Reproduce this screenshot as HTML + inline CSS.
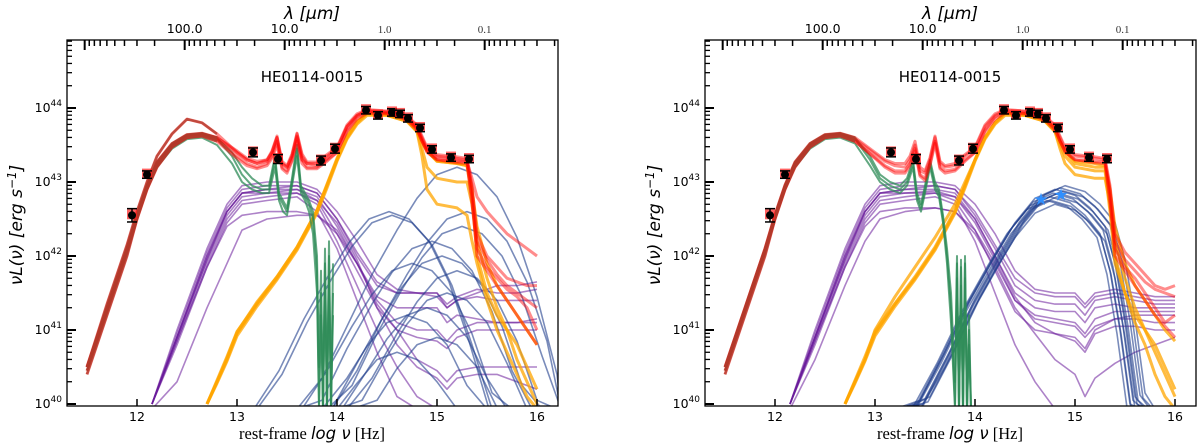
<!DOCTYPE html>
<html><head><meta charset="utf-8">
<style>
html,body{margin:0;padding:0;background:#fff;overflow:hidden;}
svg{display:block;}
text{font-family:"DejaVu Sans","Liberation Sans",sans-serif;}
</style></head>
<body>
<svg id="fig" width="1200" height="448" viewBox="0 0 1200 448" xmlns="http://www.w3.org/2000/svg"></svg>
<script>
// ---------- DATA ----------
const obsLogNu = [11.95,12.10,13.16,13.41,13.84,13.98,14.29,14.41,14.55,14.63,14.71,14.83,14.95,15.14,15.32];
const obsLogL  = [42.55,43.10,43.40,43.31,43.29,43.45,43.97,43.90,43.94,43.92,43.86,43.73,43.44,43.33,43.31];
const obsErr   = [0.09,0.05,0.06,0.06,0.06,0.06,0.05,0.05,0.05,0.05,0.05,0.05,0.05,0.05,0.05];

const xTicks = [12,13,14,15,16];
const yTicks = [40,41,42,43,44];
const lamMajor = [100,10,1,0.1];
const lamLabels = ["100.0","10.0","1.0","0.1"];

const redX = [11.5,11.7,11.9,12.0,12.1,12.2,12.35,12.5,12.65,12.8,13.0,13.1,13.2,13.3,13.35,13.4,13.45,13.5,13.55,13.6,13.65,13.7,13.8,13.9,14.0,14.1,14.2,14.3,14.5,14.7,14.8,14.85,14.9,15.0,15.2,15.3,15.35,15.4,15.5,15.6,15.7,15.8,15.9,16.0];
const leftRed = [
 [40.5,41.3,42.1,42.55,42.95,43.25,43.5,43.63,43.65,43.6,43.4,43.3,43.25,43.28,43.4,43.6,43.25,43.2,43.35,43.65,43.35,43.25,43.25,43.35,43.45,43.75,43.9,43.97,43.95,43.88,43.75,43.6,43.45,43.35,43.32,43.3,42.9,42.2,41.95,41.75,41.6,41.5,41.4,41.3],
 [40.45,41.25,42.05,42.5,42.9,43.2,43.47,43.6,43.63,43.57,43.35,43.25,43.2,43.25,43.35,43.55,43.2,43.15,43.3,43.6,43.3,43.2,43.2,43.3,43.4,43.7,43.88,43.95,43.93,43.85,43.72,43.55,43.42,43.3,43.28,43.27,42.8,42.0,41.8,41.6,41.4,41.2,41.0,40.8],
 [40.5,41.35,42.15,42.6,43.0,43.35,43.65,43.85,43.8,43.65,43.4,43.3,43.25,43.3,43.4,43.6,43.25,43.2,43.35,43.62,43.3,43.25,43.22,43.32,43.45,43.75,43.9,43.96,43.94,43.87,43.74,43.58,43.44,43.33,43.3,43.28,43.05,42.8,42.6,42.45,42.3,42.2,42.1,42.0],
 [40.4,41.2,42.0,42.5,42.9,43.22,43.48,43.6,43.62,43.55,43.32,43.22,43.18,43.22,43.32,43.5,43.18,43.12,43.28,43.55,43.25,43.18,43.18,43.28,43.4,43.68,43.85,43.93,43.92,43.84,43.7,43.55,43.4,43.3,43.26,43.25,42.7,42.1,41.85,41.7,41.55,41.45,41.3,41.0],
 [40.5,41.3,42.1,42.55,42.95,43.27,43.52,43.64,43.66,43.6,43.42,43.32,43.28,43.3,43.42,43.62,43.28,43.22,43.38,43.66,43.38,43.27,43.27,43.37,43.47,43.77,43.92,43.98,43.96,43.89,43.77,43.62,43.47,43.37,43.34,43.32,42.95,42.3,42.0,41.85,41.7,41.65,41.6,41.6]
];
const rightRed = [
 [40.5,41.3,42.1,42.55,42.95,43.25,43.5,43.63,43.65,43.58,43.38,43.28,43.22,43.2,43.3,43.5,43.15,43.12,43.3,43.6,43.25,43.2,43.22,43.35,43.45,43.75,43.9,43.97,43.95,43.88,43.75,43.6,43.45,43.35,43.32,43.3,42.9,42.2,41.95,41.8,41.65,41.55,41.5,41.45],
 [40.45,41.25,42.05,42.5,42.9,43.2,43.47,43.6,43.63,43.55,43.33,43.22,43.15,43.15,43.25,43.45,43.1,43.05,43.25,43.55,43.2,43.15,43.17,43.3,43.4,43.7,43.88,43.95,43.93,43.85,43.72,43.55,43.42,43.3,43.28,43.27,42.8,42.0,41.8,41.6,41.4,41.2,41.05,40.9],
 [40.5,41.3,42.1,42.56,42.96,43.27,43.52,43.64,43.66,43.6,43.4,43.3,43.25,43.25,43.35,43.55,43.2,43.15,43.33,43.62,43.28,43.22,43.25,43.37,43.47,43.77,43.92,43.98,43.96,43.89,43.77,43.62,43.47,43.37,43.34,43.32,42.95,42.3,42.05,41.9,41.75,41.6,41.55,41.6],
 [40.4,41.2,42.0,42.5,42.9,43.22,43.48,43.6,43.62,43.55,43.32,43.2,43.12,43.12,43.22,43.42,43.08,43.02,43.22,43.52,43.18,43.12,43.15,43.28,43.4,43.68,43.85,43.93,43.92,43.84,43.7,43.55,43.4,43.3,43.26,43.25,42.7,42.1,41.85,41.7,41.5,41.3,41.1,41.2]
];

const greenX = [11.5,11.7,11.9,12.0,12.1,12.2,12.35,12.5,12.65,12.8,12.95,13.05,13.15,13.25,13.32,13.38,13.42,13.46,13.5,13.55,13.6,13.64,13.68,13.72,13.76,13.8,13.82,13.84,13.86,13.88,13.9,13.92,13.94,13.96];
const leftGreen = [
 [40.5,41.3,42.1,42.55,42.95,43.25,43.5,43.63,43.65,43.58,43.35,43.1,42.95,42.9,42.9,43.3,42.8,42.7,42.6,43.0,43.45,42.9,42.8,42.7,42.5,41.8,40.0,41.5,39.5,41.9,39.5,42.0,39.5,41.5],
 [40.45,41.25,42.05,42.5,42.9,43.2,43.45,43.58,43.6,43.5,43.25,43.0,42.9,42.85,42.85,43.2,42.75,42.6,42.55,42.95,43.35,42.85,42.75,42.6,42.3,41.5,39.5,41.2,39.5,41.6,39.5,41.7,39.5,41.2],
 [40.5,41.3,42.1,42.56,42.96,43.27,43.52,43.64,43.66,43.6,43.4,43.2,43.05,42.95,42.95,43.35,42.85,42.75,42.65,43.05,43.5,42.95,42.85,42.75,42.6,42.0,40.5,41.8,39.5,42.1,39.5,42.2,39.5,41.9]
];
const rightGreen = [
 [40.5,41.3,42.1,42.55,42.95,43.25,43.5,43.63,43.65,43.58,43.3,43.05,42.95,42.9,43.0,43.25,42.8,42.65,42.9,43.25,42.95,42.85,42.5,42.0,41.3,40.0,41.9,39.5,41.85,39.5,41.9,39.5,41.0,39.5],
 [40.45,41.25,42.05,42.5,42.9,43.2,43.45,43.58,43.6,43.52,43.22,43.0,42.9,42.85,42.95,43.2,42.75,42.6,42.85,43.2,42.9,42.8,42.45,41.9,41.1,39.5,41.7,39.5,41.6,39.5,41.7,39.5,40.8,39.5],
 [40.5,41.3,42.1,42.56,42.96,43.27,43.52,43.64,43.66,43.6,43.35,43.1,43.0,42.95,43.05,43.3,42.85,42.7,42.95,43.3,43.0,42.9,42.55,42.1,41.5,40.3,42.0,39.5,41.95,39.5,42.0,39.5,41.2,39.5]
];

const purpleX = [12.15,12.4,12.7,12.9,13.05,13.3,13.6,13.8,14.0,14.2,14.4,14.6,14.8,15.0,15.1,15.2,15.4,15.6,15.8,16.0];
const leftPurple = [
 [40,41.0,42.1,42.7,42.95,43.0,43.0,42.9,42.6,42.2,41.75,41.55,41.5,41.5,41.35,41.45,41.55,41.5,41.5,41.55],
 [40,40.95,42.05,42.65,42.9,42.95,42.95,42.85,42.5,42.0,41.6,41.5,41.5,41.45,41.3,41.4,41.45,41.4,41.4,41.4],
 [40,40.9,42.0,42.6,42.85,42.9,42.9,42.8,42.4,41.9,41.4,41.1,41.0,41.0,40.85,41.0,41.1,41.1,41.1,41.15],
 [40,40.9,41.95,42.55,42.8,42.85,42.9,42.75,42.3,41.8,41.3,41.0,40.9,40.85,40.75,40.9,41.0,41.0,41.0,41.0],
 [40,40.85,41.9,42.5,42.75,42.8,42.85,42.7,42.2,41.6,41.0,40.5,40.1,39.8,39.7,39.6,39.6,39.6,39.6,39.6],
 [40,40.8,41.85,42.45,42.7,42.75,42.8,42.6,42.1,41.4,40.7,40.1,39.6,39.4,39.3,39.3,39.3,39.3,39.3,39.3],
 [40,40.85,41.85,42.4,42.55,42.6,42.6,42.55,42.3,41.9,41.45,41.3,41.3,41.3,41.1,41.2,41.15,41.1,41.1,41.1],
 [39.5,40.3,41.3,41.9,42.35,42.5,42.55,42.55,42.35,41.9,41.35,41.0,40.6,40.45,40.3,40.45,40.5,40.5,40.5,40.5],
 [40,40.9,41.95,42.6,42.85,42.9,42.95,42.85,42.5,42.05,41.65,41.5,41.5,41.5,41.3,41.4,41.5,41.6,41.6,41.65],
 [40,40.9,42.0,42.6,42.85,42.85,42.85,42.75,42.45,41.95,41.3,40.8,40.5,40.35,40.2,40.35,40.4,40.4,40.3,40.2]
];
const rightPurple = [
 [40,41.0,42.1,42.7,42.95,43.0,43.0,42.95,42.7,42.3,41.8,41.55,41.5,41.5,41.35,41.5,41.55,41.5,41.45,41.45],
 [40,40.95,42.05,42.65,42.9,42.95,42.95,42.9,42.6,42.15,41.7,41.5,41.45,41.45,41.3,41.45,41.5,41.45,41.4,41.4],
 [40,40.9,42.0,42.6,42.85,42.9,42.9,42.85,42.5,42.0,41.5,41.3,41.25,41.25,41.1,41.3,41.35,41.3,41.3,41.3],
 [40,40.9,41.95,42.55,42.8,42.85,42.88,42.8,42.45,41.95,41.4,41.2,41.15,41.1,40.95,41.15,41.25,41.25,41.25,41.25],
 [40,40.85,41.9,42.5,42.75,42.8,42.85,42.75,42.35,41.8,41.25,41.0,40.95,40.9,40.75,41.0,41.15,41.2,41.2,41.2],
 [40,40.8,41.85,42.45,42.7,42.75,42.8,42.7,42.2,41.5,40.8,40.3,39.8,39.5,39.4,39.4,39.4,39.4,39.4,39.4],
 [40,40.85,41.85,42.4,42.6,42.65,42.65,42.6,42.3,41.85,41.3,40.95,40.6,40.4,40.1,40.35,40.55,40.7,40.8,40.9],
 [39.8,40.6,41.6,42.2,42.5,42.6,42.65,42.6,42.35,41.9,41.4,41.15,41.1,41.05,40.9,41.05,41.15,41.15,41.1,41.1],
 [40,40.9,41.95,42.6,42.85,42.9,42.95,42.9,42.55,42.1,41.6,41.4,41.35,41.35,41.2,41.4,41.45,41.4,41.35,41.35],
 [40,40.9,42.0,42.6,42.85,42.85,42.85,42.8,42.5,42.0,41.45,41.1,40.95,40.85,40.7,40.95,41.05,41.05,41.0,41.0]
];

const orangeX = [12.7,12.8,12.9,13.0,13.2,13.4,13.6,13.8,13.9,14.0,14.1,14.2,14.3,14.5,14.7,14.8,14.85,14.9,15.0,15.2,15.3,15.35,15.4,15.5,15.6,15.7,15.8,15.9,16.0];
const leftOrange = [
 [40,40.3,40.6,40.95,41.35,41.7,42.1,42.6,42.95,43.3,43.6,43.8,43.93,43.92,43.85,43.72,43.55,43.42,43.28,43.25,43.22,42.8,42.0,41.5,41.2,41.0,40.8,40.5,40.2],
 [40,40.3,40.62,40.97,41.38,41.72,42.12,42.62,42.97,43.32,43.62,43.82,43.92,43.9,43.82,43.68,43.45,43.2,43.05,43.0,43.0,42.7,42.2,41.7,41.3,41.0,40.6,40.3,40.0],
 [40,40.28,40.58,40.92,41.32,41.68,42.08,42.58,42.92,43.28,43.58,43.78,43.9,43.9,43.82,43.68,43.35,42.9,42.7,42.65,42.55,42.2,41.9,41.4,41.0,40.7,40.4,40.1,39.8],
 [40,40.32,40.64,40.98,41.36,41.72,42.12,42.62,42.96,43.3,43.6,43.8,43.93,43.92,43.85,43.72,43.55,43.42,43.28,43.25,43.22,42.9,42.4,41.9,41.6,41.4,41.2,41.0,40.8]
];
const rightOrange = [
 [40,40.3,40.6,40.95,41.35,41.7,42.1,42.6,42.95,43.3,43.6,43.8,43.93,43.92,43.85,43.72,43.55,43.42,43.25,43.2,43.2,42.8,42.0,41.5,41.2,41.0,40.8,40.5,40.2],
 [40,40.3,40.6,41.0,41.45,41.85,42.25,42.7,43.0,43.3,43.6,43.8,43.92,43.9,43.82,43.68,43.45,43.25,43.1,43.05,43.05,42.7,42.2,41.7,41.3,41.0,40.7,40.4,40.1],
 [40,40.28,40.58,40.92,41.32,41.68,42.08,42.58,42.92,43.28,43.58,43.78,43.9,43.9,43.82,43.68,43.5,43.35,43.2,43.15,43.15,42.6,41.9,41.5,41.1,40.8,40.4,40.1,39.8],
 [40,40.32,40.64,40.98,41.36,41.72,42.12,42.62,42.96,43.3,43.6,43.8,43.93,43.92,43.85,43.72,43.55,43.42,43.28,43.25,43.22,42.9,42.4,41.9,41.6,41.4,41.2,41.0,40.85]
];

const bbbLeftDx = [-1.6,-1.35,-1.1,-0.85,-0.6,-0.4,-0.2,0,0.2,0.4,0.6,0.8,1.0,1.2];
const bbbLeftDy = [-3.6,-2.85,-2.15,-1.45,-0.85,-0.42,-0.1,0,-0.1,-0.4,-0.95,-1.75,-2.8,-4.0];
const leftBbbPeakX = [14.52,14.55,14.75,14.95,15.05,15.2,15.25,15.1,14.7,14.9,15.0,14.6,15.3,15.2];
const leftBbbPeakY = [42.6,42.55,41.9,42.2,42.0,43.2,42.4,41.5,41.2,41.3,40.9,40.7,42.6,41.8];
const bbbRightDx = [-1.6,-1.35,-1.1,-0.85,-0.6,-0.4,-0.2,0,0.2,0.35,0.5,0.6,0.7,0.8,0.9];
const bbbRightDy = [-3.4,-2.85,-2.2,-1.5,-0.9,-0.45,-0.12,0,-0.08,-0.25,-0.5,-1.0,-1.8,-2.8,-3.9];
const rightBbbPeakX = [14.78,14.80,14.82,14.76,14.85,14.80,14.90,14.75,14.83,14.72,14.88];
const rightBbbPeakY = [42.85,42.90,42.80,42.75,42.92,42.70,42.95,42.80,42.85,42.75,42.88];
const starLogNu = [14.66,14.86];
const starLogL = [42.77,42.83];

// ---------- DRAW ----------
const NS = "http://www.w3.org/2000/svg";
const svg = document.getElementById("fig");
function el(tag, attrs, parent) {
  const e = document.createElementNS(NS, tag);
  for (const k in attrs) e.setAttribute(k, attrs[k]);
  (parent || svg).appendChild(e);
  return e;
}
const FT = 40, FB = 406;
function makePanel(off, idx) {
  const g = el("g", {});
  
  
  const FL = 67 + off, FR = 558 + off;
  const X = v => 137 + off + (v - 12) * 100;
  const Y = l => 108 + (44 - l) * 74;
  const cid = "clip" + idx;
  const cp = el("clipPath", { id: cid }, g);
  el("rect", { x: FL, y: FT, width: FR - FL, height: FB - FT }, cp);
  const plot = el("g", { "clip-path": "url(#" + cid + ")" }, g);
  return { g, plot, X, Y, FL, FR, off };
}
function clampY(y) { return Math.max(FT - 3, Math.min(FB + 3, y)); }
function clampX(P, x) { return Math.max(P.FL - 3, Math.min(P.FR + 3, x)); }
function line(P, xs, ys, color, w, op, name) {
  const pts = xs.map((x, i) => clampX(P, P.X(x)).toFixed(1) + "," + clampY(P.Y(ys[i])).toFixed(1)).join(" ");
  const p = el("polyline", { points: pts, fill: "none", stroke: color, "stroke-width": w, "stroke-opacity": op, "stroke-linejoin": "round" }, P.plot);
  
  
}
function drawPanel(P, red, green, purple, orange, bX, bY, bDx, bDy, stars) {
  purple.forEach(r => line(P, purpleX, r, "#6a1b9a", 1.6, 0.55, "torus-model-line"));
  bX.forEach((px, i) => {
    line(P, bDx.map(d => px + d), bDy.map(d => bY[i] + d), "#1f3d8c", 1.6, 0.6, "bbb-model-line");
  });
  orange.forEach(r => line(P, orangeX, r, "#ffa500", 3, 0.75, "stellar-model-line"));
  green.forEach(r => line(P, greenX, r, "#2e8b57", 2, 0.75, "starburst-model-line"));
  red.forEach(r => line(P, redX, r, "#ff0000", 3, 0.45, "total-model-line"));
  red.forEach(r => {
    const n = redX.findIndex(v => v > 12.85);
    line(P, redX.slice(0, n), r.slice(0, n), "#b23a2a", 2.5, 0.8, "fir-total-line");
  });
  obsLogNu.forEach((v, i) => {
    const x = P.X(v), y = P.Y(obsLogL[i]);
    const s = el("rect", { x: x - 5, y: y - 6, width: 10, height: 10, fill: "#ff2020", opacity: 0.7 }, P.plot);
    
    
    const y1 = P.Y(obsLogL[i] + obsErr[i]), y2 = P.Y(obsLogL[i] - obsErr[i]);
    el("line", { x1: x, x2: x, y1: y1, y2: y2, stroke: "#000", "stroke-width": 1.5 }, P.plot);
    el("line", { x1: x - 5, x2: x + 5, y1: y1, y2: y1, stroke: "#000", "stroke-width": 1.5 }, P.plot);
    el("line", { x1: x - 5, x2: x + 5, y1: y2, y2: y2, stroke: "#000", "stroke-width": 1.5 }, P.plot);
    const c = el("circle", { cx: x, cy: y, r: 4, fill: "#000" }, P.plot);
    
    
  });
  if (stars) {
    starLogNu.forEach((v, i) => {
      const t = el("text", { x: P.X(v), y: P.Y(starLogL[i]) + 6, "text-anchor": "middle", "font-size": 17, fill: "#2f8fff" }, P.plot);
      t.textContent = "★";
      
      
    });
  }
  const fr = el("rect", { x: P.FL, y: FT, width: P.FR - P.FL, height: FB - FT, fill: "none", stroke: "#000", "stroke-width": 1.3 }, P.g);
  
  
  xTicks.forEach(t => {
    const x = P.X(t);
    el("line", { x1: x, x2: x, y1: FB, y2: FB - 7, stroke: "#000", "stroke-width": 1.5 }, P.g);
    const tx = el("text", { x: x, y: 421, "text-anchor": "middle", "font-size": 12.5 }, P.g);
    tx.textContent = t;
    
    
  });
  for (let d = 39; d <= 44; d++) {
    for (let m = 1; m <= 9; m++) {
      const l = d + Math.log10(m);
      const y = P.Y(l);
      if (y < FT || y > FB + 0.5) continue;
      el("line", { x1: P.FL, x2: P.FL + (m === 1 ? 9 : 5), y1: y, y2: y, stroke: "#000", "stroke-width": m === 1 ? 2 : 1.3 }, P.g);
    }
  }
  yTicks.forEach(t => {
    const y = P.Y(t);
    const tx = el("text", { x: P.FL - 5, y: y + 4, "text-anchor": "end", "font-size": 12.5 }, P.g);
    
    
    const a = el("tspan", {}, tx); a.textContent = "10";
    const b = el("tspan", { dy: -6, "font-size": 9 }, tx); b.textContent = t;
  });
  for (let e = -2; e <= 3; e++) {
    for (let m = 1; m <= 9; m++) {
      const lam = m * Math.pow(10, e);
      const x = P.X(14.4768 - Math.log10(lam));
      if (x < P.FL + 2 || x > P.FR - 1) continue;
      el("line", { x1: x, x2: x, y1: FT, y2: FT + (m === 1 ? 10 : 6), stroke: "#000", "stroke-width": m === 1 ? 2 : 1.5 }, P.g);
    }
  }
  lamMajor.forEach((lam, i) => {
    const x = P.X(14.4768 - Math.log10(lam));
    const serif = i >= 2;
    const tx = el("text", { x: x, y: 33, "text-anchor": "middle", "font-size": serif ? 11 : 12.5, fill: serif ? "#333" : "#000", style: serif ? "font-family:'Liberation Serif',serif" : "" }, P.g);
    tx.textContent = lamLabels[i];
    
    
  });
  const cx = 312 + P.off;
  const lt = el("text", { x: cx, y: 19, "text-anchor": "middle", "font-size": 17, "font-style": "italic" }, P.g);
  lt.textContent = "λ [μm]";
  
  
  const tt = el("text", { x: cx, y: 82, "text-anchor": "middle", "font-size": 15 }, P.g);
  tt.textContent = "HE0114-0015";
  
  
  const xl = el("text", { x: cx, y: 439, "text-anchor": "middle", "font-size": 16.5, style: "font-family:'Liberation Serif',serif" }, P.g);
  
  
  const x1 = el("tspan", {}, xl); x1.textContent = "rest-frame ";
  const x2 = el("tspan", { "font-style": "italic", style: "font-family:'DejaVu Sans',sans-serif" }, xl); x2.textContent = "log ν";
  const x3 = el("tspan", {}, xl); x3.textContent = " [Hz]";
  const yl = el("text", { x: 0, y: 0, "text-anchor": "middle", "font-size": 17, "font-style": "italic", transform: "translate(" + (22 + P.off) + ",225) rotate(-90)" }, P.g);
  
  
  const y1 = el("tspan", {}, yl); y1.textContent = "νL(ν) [erg s";
  const y2 = el("tspan", { dy: -6, "font-size": 12 }, yl); y2.textContent = "−1";
  const y3 = el("tspan", { dy: 6 }, yl); y3.textContent = "]";
}
const PL = makePanel(0, 0);
drawPanel(PL, leftRed, leftGreen, leftPurple, leftOrange, leftBbbPeakX, leftBbbPeakY, bbbLeftDx, bbbLeftDy, false);
const PR = makePanel(638, 1);
drawPanel(PR, rightRed, rightGreen, rightPurple, rightOrange, rightBbbPeakX, rightBbbPeakY, bbbRightDx, bbbRightDy, true);
</script>
</body></html>
